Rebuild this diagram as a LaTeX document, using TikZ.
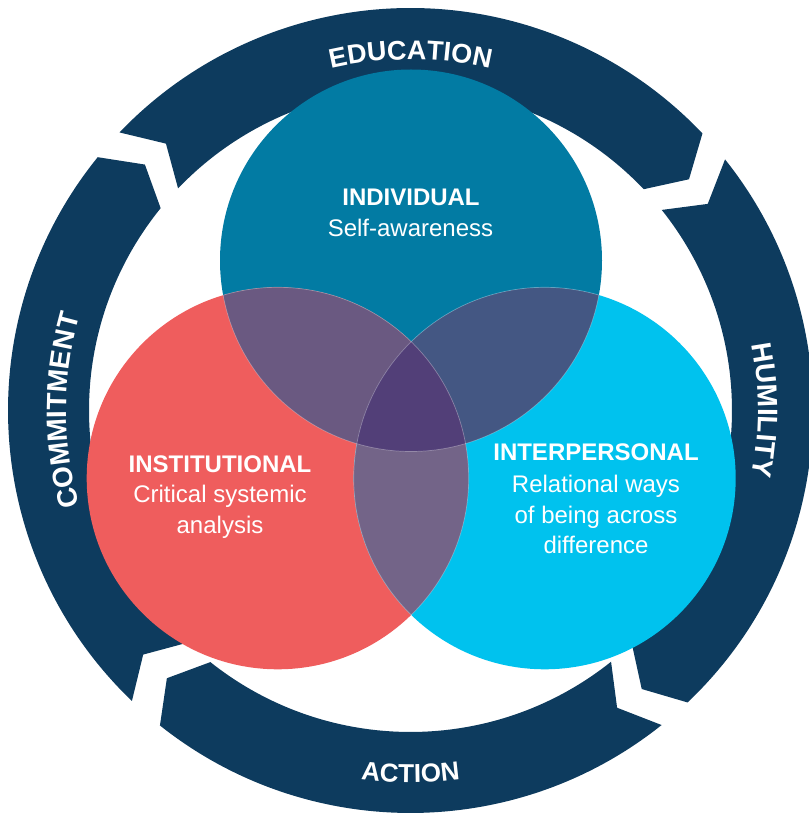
\documentclass[tikz,border=0pt]{standalone}
\usepackage{fontspec}
\setmainfont{Liberation Sans}
\usetikzlibrary{decorations.text}
\definecolor{band}{HTML}{0D3B5E}
\definecolor{cT}{HTML}{027BA3}
\definecolor{cL}{HTML}{EF5D5D}
\definecolor{cR}{HTML}{00C2EE}
\definecolor{cTL}{HTML}{6A5981}
\definecolor{cTR}{HTML}{445783}
\definecolor{cLR}{HTML}{736488}
\definecolor{cTLR}{HTML}{523F78}
\newcommand\rf[1]{\fontsize{#1}{30}\selectfont\bfseries}
\tikzset{
  ringband/.style={fill=band, draw=none},
  seam/.style={draw=white, draw opacity=0.3, line width=0.7pt},
  lbl/.style={text=white, anchor=base, inner sep=0pt, font=\fontsize{24}{28}\selectfont},
  lblb/.style={lbl, font=\fontsize{24}{28}\selectfont\bfseries},
  ringtext/.style={decorate, decoration={text along path, text align=center, text color=white, text={#1}}},
}
\begin{document}
\begin{tikzpicture}[x=1pt, y=1pt]
\useasboundingbox (0,0) rectangle (809,815);
\clip (0,0) rectangle (809,815);
% ring of four arrows
\begin{scope}[shift={(410.5,404.5)}]
  \fill[ringband] (136.3:402.5pt) arc[start angle=136.3, end angle=43.5, radius=402.5pt]
     -- (39.7:362pt) -- (43.5:321.5pt) arc[start angle=43.5, end angle=136.3, radius=321.5pt]
     -- (132.5:362pt) -- cycle;
  \fill[ringband] (38.6:402.5pt) arc[start angle=38.6, end angle=-46.5, radius=402.5pt]
     -- (-50.3:362pt) -- (-46.5:321.5pt) arc[start angle=-46.5, end angle=38.6, radius=321.5pt]
     -- (34.8:362pt) -- cycle;
  \fill[ringband] (-51.4:402.5pt) arc[start angle=-51.4, end angle=-128.5, radius=402.5pt]
     -- (-132.3:362pt) -- (-128.5:321.5pt) arc[start angle=-128.5, end angle=-51.4, radius=321.5pt]
     -- (-55.2:362pt) -- cycle;
  \fill[ringband] (-133.8:402.5pt) arc[start angle=-133.8, end angle=-219, radius=402.5pt]
     -- (-222.8:362pt) -- (-219:321.5pt) arc[start angle=-219, end angle=-133.8, radius=321.5pt]
     -- (-137.6:362pt) -- cycle;
  \path[ringtext={|\rf{27}|EDUCATION}] (116:351pt) arc[start angle=116, end angle=64, radius=351pt];
  \path[ringtext={|\rf{28}|HUMILITY}] (25:347.5pt) arc[start angle=25, end angle=-25, radius=347.5pt];
  \path[ringtext={|\rf{26}|ACTION}] (240:372pt) arc[start angle=240, end angle=300, radius=372pt];
  \path[ringtext={|\rf{28}|COMMITMENT}] (205:344pt) arc[start angle=205, end angle=155, radius=344pt];
\end{scope}
% Venn circles
\coordinate (T) at (411,554.5);
\coordinate (L) at (277.7,336.7);
\coordinate (R) at (544.7,336.7);
\fill[cT] (T) circle[radius=191pt];
\fill[cL] (L) circle[radius=191pt];
\fill[cR] (R) circle[radius=191pt];
\begin{scope}
  \clip (T) circle[radius=191pt];
  \fill[cTL] (L) circle[radius=191pt];
\end{scope}
\begin{scope}
  \clip (T) circle[radius=191pt];
  \fill[cTR] (R) circle[radius=191pt];
\end{scope}
\begin{scope}
  \clip (L) circle[radius=191pt];
  \fill[cLR] (R) circle[radius=191pt];
\end{scope}
\begin{scope}
  \clip (T) circle[radius=191pt];
  \clip (L) circle[radius=191pt];
  \fill[cTLR] (R) circle[radius=191pt];
\end{scope}
% faint seams
\begin{scope}
  \clip (L) circle[radius=191pt] (R) circle[radius=191pt];
  \draw[seam] (T) circle[radius=191pt];
\end{scope}
\begin{scope}
  \clip (T) circle[radius=191pt] (R) circle[radius=191pt];
  \draw[seam] (L) circle[radius=191pt];
\end{scope}
\begin{scope}
  \clip (T) circle[radius=191pt] (L) circle[radius=191pt];
  \draw[seam] (R) circle[radius=191pt];
\end{scope}
% labels
\node[lblb] (ind) at (411,609.3) {INDIVIDUAL};
\node[lbl] (indsub) at (410.5,578.3) {Self-awareness};
\node[lblb] (ins) at (220,342.3) {INSTITUTIONAL};
\node[lbl] (inssub1) at (220,312.3) {Critical systemic};
\node[lbl] (inssub2) at (220,281.7) {analysis};
\node[lblb] (int) at (596,354) {INTERPERSONAL};
\node[lbl] (intsub1) at (596,322.3) {Relational ways};
\node[lbl] (intsub2) at (596,291.7) {of being across};
\node[lbl] (intsub3) at (596,261) {difference};
\end{tikzpicture}
\end{document}
